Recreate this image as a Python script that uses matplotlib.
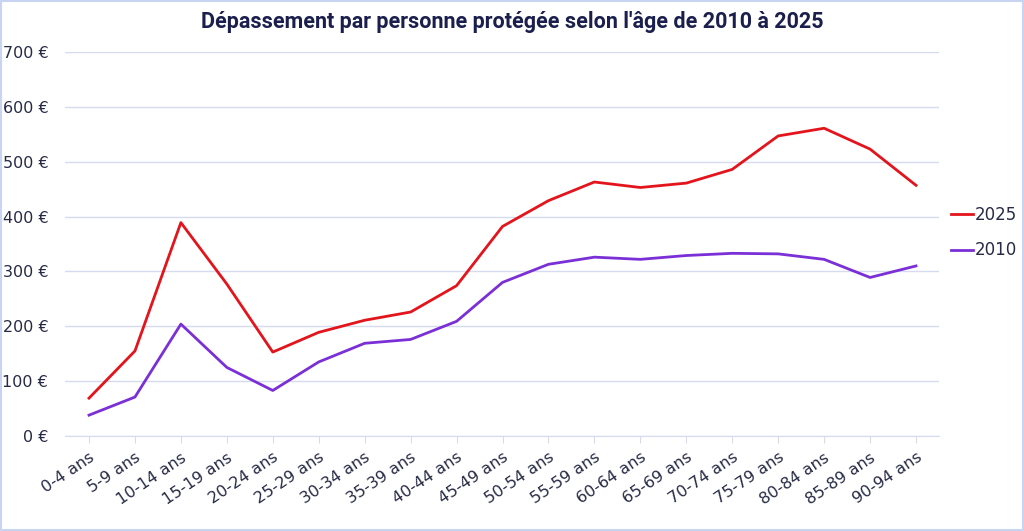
import matplotlib
matplotlib.use("Agg")
import matplotlib.pyplot as plt
from matplotlib.patches import Rectangle
from matplotlib.lines import Line2D

categories = ["0-4 ans", "5-9 ans", "10-14 ans", "15-19 ans", "20-24 ans", "25-29 ans",
              "30-34 ans", "35-39 ans", "40-44 ans", "45-49 ans", "50-54 ans", "55-59 ans",
              "60-64 ans", "65-69 ans", "70-74 ans", "75-79 ans", "80-84 ans", "85-89 ans",
              "90-94 ans"]
values_2025 = [69, 155, 389, 277, 153, 189, 211, 226, 274, 382, 429, 463, 453, 461, 486,
               547, 561, 523, 457]
values_2010 = [38, 71, 204, 125, 83, 135, 169, 176, 209, 280, 313, 326, 322, 329, 333,
               332, 322, 289, 310]
yticks = [0, 100, 200, 300, 400, 500, 600, 700]
title = "Dépassement par personne protégée selon l'âge de 2010 à 2025"

RED = "#E3141B"
PURPLE = "#7B2FD6"
TEXT = "#262a45"
GRID = "#d6dbef"

fig = plt.figure(figsize=(10.24, 5.31), dpi=100)
W, H = 1024, 531
ax = fig.add_axes([65 / W, 1 - 436 / H, (939 - 65) / W, (436 - 52) / H])

x = list(range(len(categories)))
ax.plot(x, values_2025, color=RED, lw=2.0, solid_joinstyle="round")
ax.plot(x, values_2010, color=PURPLE, lw=2.0, solid_joinstyle="round")

step = (916 - 89) / 18.0
left_pad = (89 - 65) / step
right_pad = (939 - 916) / step
ax.set_xlim(-left_pad, len(categories) - 1 + right_pad)
ax.set_ylim(0, 700)

ax.set_yticks(yticks)
ax.set_yticklabels([f"{v} €" for v in yticks], fontsize=11.5, color=TEXT)
ax.set_xticks(x)
ax.set_xticklabels(categories, rotation=34, ha="right", rotation_mode="anchor",
                   fontsize=11.5, color=TEXT)

ax.grid(axis="y", color=GRID, lw=1.0)
ax.set_axisbelow(True)
for s in ["top", "right", "left"]:
    ax.spines[s].set_visible(False)
ax.spines["bottom"].set_color(GRID)
ax.tick_params(axis="y", length=0, pad=12)
ax.tick_params(axis="x", length=5, color=GRID, direction="out", pad=5)

handles = [Line2D([0], [0], color=RED, lw=2), Line2D([0], [0], color=PURPLE, lw=2)]
leg = fig.legend(handles, ["2025", "2010"], loc="upper left",
                 bbox_to_anchor=(936 / W, 1 - 191 / H), frameon=False,
                 fontsize=12, handlelength=1.3, handletextpad=0.1,
                 labelspacing=1.05, labelcolor=TEXT)

fig.text(0.5, 1 - 22 / H, title, ha="center", va="center", fontsize=15.5,
         fontweight="bold", color="#1a1f4d",
         family=["Liberation Sans Narrow", "Roboto", "DejaVu Sans"])

fig.patches.append(Rectangle((1 / W, 1 / H), 1 - 2 / W, 1 - 2 / H, transform=fig.transFigure,
                             fill=False, edgecolor="#c8d4f2", lw=1.5))

fig.savefig("out.png", dpi=100, facecolor="white")
